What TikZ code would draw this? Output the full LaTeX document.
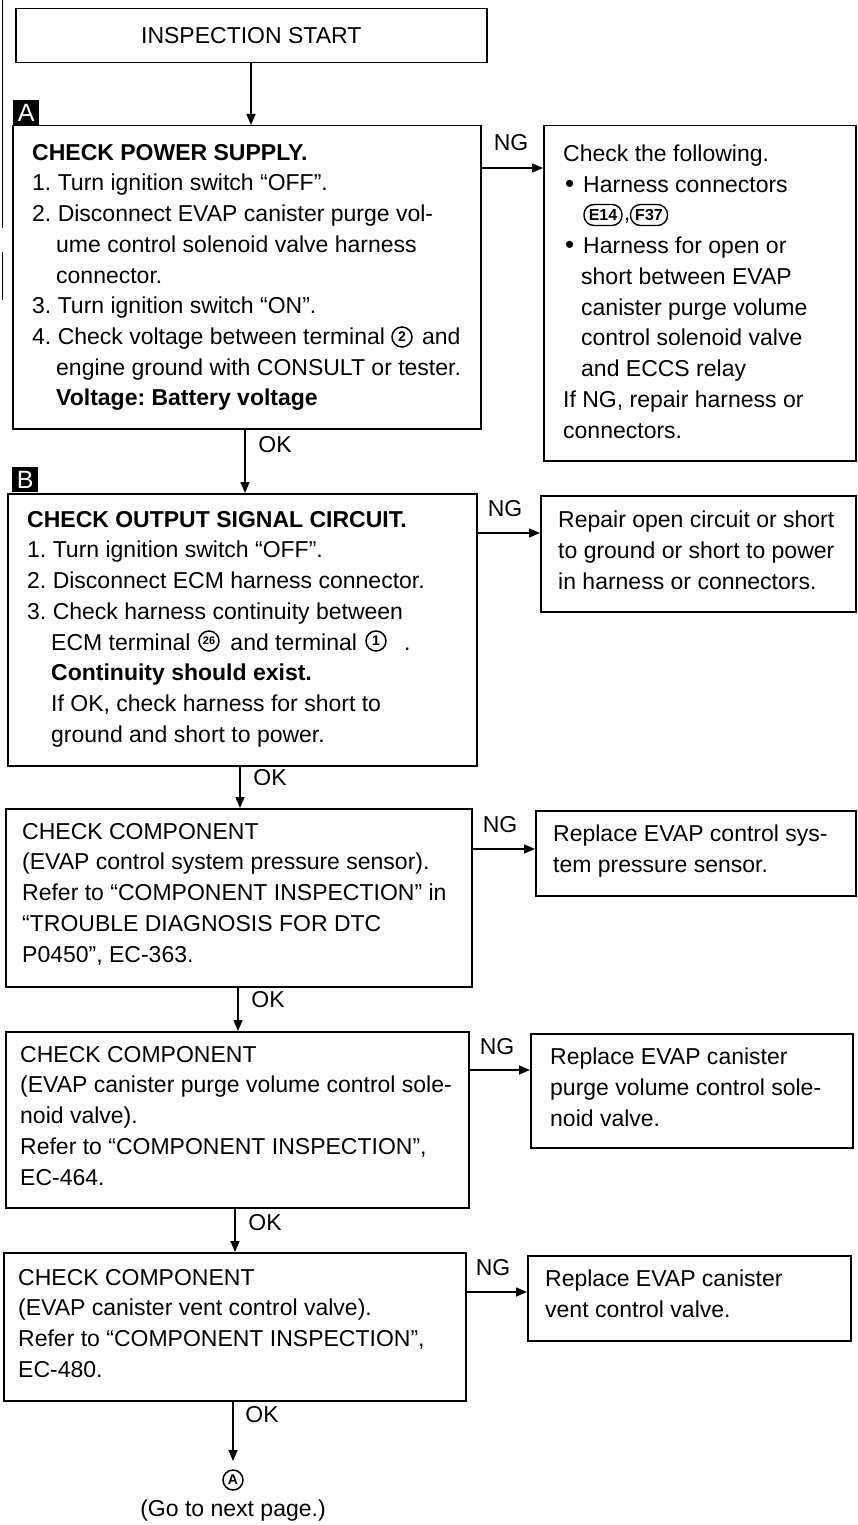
\documentclass[tikz,border=0pt]{standalone}
\usepackage{fontspec}
\setmainfont{Liberation Sans}
\usetikzlibrary{arrows.meta}
\frenchspacing
\newcommand{\ind}{\hspace*{24pt}}
\newcommand{\bind}{\hspace*{18pt}}
\newcommand{\bul}{\makebox[20pt][l]{\hspace{2pt}\raisebox{0.5pt}{\fontsize{26}{26}\selectfont•}}}
\begin{document}
\begin{tikzpicture}[x=1pt,y=-1pt,
  font=\fontsize{23}{30.7}\selectfont,
  box/.style={draw, line width=1.5pt, inner sep=0pt, anchor=north west},
  txt/.style={anchor=north west, inner sep=0pt, align=left},
  lbl/.style={inner sep=0pt},
  arr/.style={-{Triangle[length=11pt,width=9pt]}, line width=1.5pt},
  tag/.style={fill=black, text=white, inner sep=0pt, minimum width=26pt, minimum height=25pt, anchor=north west, font=\fontsize{25}{25}\selectfont},
  capsule/.style={draw, line width=1.4pt, rounded corners=10pt, inner sep=0pt, minimum height=21pt, font=\fontsize{16}{16}\selectfont\bfseries},
  cnum/.style={draw, circle, line width=1.5pt, inner sep=0pt, minimum size=20pt, font=\fontsize{14}{14}\selectfont\bfseries}
]
\useasboundingbox (0,0) rectangle (857,1525);

% scan edge line
\draw[line width=1pt] (2,0) -- (2,228);
\draw[line width=1pt] (2,252) -- (2,300);

% boxes
\node[box, minimum width=471pt, minimum height=54pt] (start) at (15,8) {};
\node at (start.center) {INSPECTION START};

\node[tag] (tagA) at (13,100) {A};
\node[box, minimum width=468pt, minimum height=303pt] (A) at (12,125) {};
\node[box, minimum width=312pt, minimum height=335pt] (ANG) at (543,125) {};

\node[tag] (tagB) at (12,467) {B};
\node[box, minimum width=469pt, minimum height=272pt] (B) at (7,493) {};
\node[box, minimum width=315pt, minimum height=116pt] (BNG) at (540,495) {};

\node[box, minimum width=466pt, minimum height=178pt] (C) at (5,808) {};
\node[box, minimum width=320pt, minimum height=85pt] (CNG) at (535,810) {};

\node[box, minimum width=463pt, minimum height=176pt] (D) at (5,1031) {};
\node[box, minimum width=322pt, minimum height=114pt] (DNG) at (530,1033) {};

\node[box, minimum width=462pt, minimum height=148pt] (E) at (3,1252) {};
\node[box, minimum width=323pt, minimum height=85pt] (ENG) at (527,1255) {};

% texts
\node[txt] (tA) at (32,144) {\textbf{CHECK POWER SUPPLY.}\\
1. Turn ignition switch “OFF”.\\
2. Disconnect EVAP canister purge vol-\\
\ind ume control solenoid valve harness\\
\ind connector.\\
3. Turn ignition switch “ON”.\\
4. Check voltage between terminal\hspace{37pt}and\\
\ind engine ground with CONSULT or tester.\\
\ind \textbf{Voltage: Battery voltage}};
\node[cnum] (t2) at (402,337) {2};

\node[txt] (tANG1) at (563,145) {Check the following.\\
\bul Harness connectors};
\node[capsule, minimum width=38pt] (e14) at (603,215) {E14};
\node[lbl] (comma) at (627,221) {,};
\node[capsule, minimum width=37pt] (f37) at (649,215) {F37};
\node[txt] (tANG2) at (563,237) {\bul Harness for open or\\
\bind short between EVAP\\
\bind canister purge volume\\
\bind control solenoid valve\\
\bind and ECCS relay\\
If NG, repair harness or\\
connectors.};

\node[txt] (tB) at (27,511) {\textbf{CHECK OUTPUT SIGNAL CIRCUIT.}\\
1. Turn ignition switch “OFF”.\\
2. Disconnect ECM harness connector.\\
3. Check harness continuity between\\
\ind ECM terminal\hspace{40pt}and terminal\hspace{47pt}.\\
\ind \textbf{Continuity should exist.}\\
\ind If OK, check harness for short to\\
\ind ground and short to power.};
\node[cnum, font=\fontsize{11}{11}\selectfont\bfseries] (t26) at (209,641) {26};
\node[cnum] (t1) at (376,641) {1};

\node[txt] (tBNG) at (558,511) {Repair open circuit or short\\
to ground or short to power\\
in harness or connectors.};

\node[txt] (tC) at (22,823) {CHECK COMPONENT\\
(EVAP control system pressure sensor).\\
Refer to “COMPONENT INSPECTION” in\\
“TROUBLE DIAGNOSIS FOR DTC\\
P0450”, EC-363.};
\node[txt] (tCNG) at (553,825) {Replace EVAP control sys-\\
tem pressure sensor.};

\node[txt] (tD) at (20,1046) {CHECK COMPONENT\\
(EVAP canister purge volume control sole-\\
noid valve).\\
Refer to “COMPONENT INSPECTION”,\\
EC-464.};
\node[txt] (tDNG) at (550,1048) {Replace EVAP canister\\
purge volume control sole-\\
noid valve.};

\node[txt] (tE) at (18,1269) {CHECK COMPONENT\\
(EVAP canister vent control valve).\\
Refer to “COMPONENT INSPECTION”,\\
EC-480.};
\node[txt] (tENG) at (545,1270) {Replace EVAP canister\\
vent control valve.};

% vertical OK arrows
\draw[arr] (start.south -| 251,0) -- (A.north -| 251,0);
\draw[arr] (A.south -| 245,0) -- (B.north -| 245,0);
\draw[arr] (B.south -| 240,0) -- (C.north -| 240,0);
\draw[arr] (C.south -| 238,0) -- (D.north -| 238,0);
\draw[arr] (D.south -| 235,0) -- (E.north -| 235,0);
\coordinate (endA) at (233,1461);
\draw[arr] (E.south -| endA) -- (endA);

\node[lbl] (okA) at (275,445) {OK};
\node[lbl] (okB) at (270,778) {OK};
\node[lbl] (okC) at (268,1000) {OK};
\node[lbl] (okD) at (265,1223) {OK};
\node[lbl] (okE) at (262,1415) {OK};

% NG arrows
\draw[arr] (A.east |- 0,168) -- (ANG.west |- 0,168);
\draw[arr] (B.east |- 0,533) -- (BNG.west |- 0,533);
\draw[arr] (C.east |- 0,849) -- (CNG.west |- 0,849);
\draw[arr] (D.east |- 0,1070) -- (DNG.west |- 0,1070);
\draw[arr] (E.east |- 0,1292) -- (ENG.west |- 0,1292);

\node[lbl] (ngA) at (511,143) {NG};
\node[lbl] (ngB) at (505,509) {NG};
\node[lbl] (ngC) at (500,825) {NG};
\node[lbl] (ngD) at (497,1047) {NG};
\node[lbl] (ngE) at (493,1268) {NG};

% continuation
\node[cnum, minimum size=20pt] (circA) at (233,1480) {A};
\node[lbl] (next) at (233,1511) {(Go to next page.)};
\end{tikzpicture}
\end{document}
